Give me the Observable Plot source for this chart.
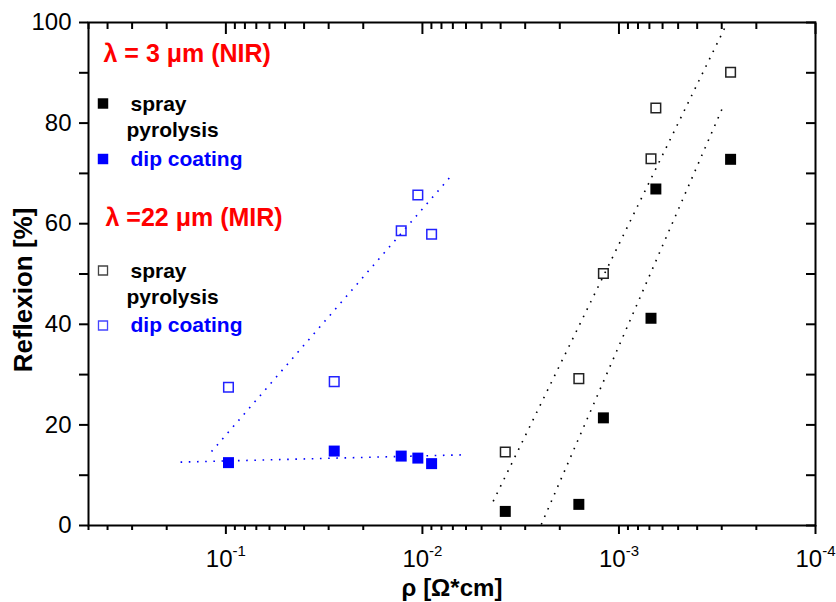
<!DOCTYPE html>
<html>
<head>
<meta charset="utf-8">
<script src="https://cdn.jsdelivr.net/npm/d3@7"></script>
<script src="https://cdn.jsdelivr.net/npm/@observablehq/plot@0.6"></script>
<style>
  html, body { margin: 0; padding: 0; background: #fff; }
  #chart svg { display: block; }
  #chart [aria-label="y-axis tick label"] { font-size: 24px; }
  #chart [aria-label="x-axis tick label"] { font-size: 24px; }
  #chart [aria-label="x-axis tick label"] tspan.exp { font-size: 15px; }
</style>
</head>
<body>
<div id="chart"></div>
<script>
// ---- data ----
// spray pyrolysis samples: resistivity ρ [Ω*cm]
const sprayRho = [0.003788, 0.0016, 0.0012, 0.000687, 0.000649, 0.0002704];
const sprayNIR = [2.8, 4.2, 21.4, 41.2, 66.9, 72.8];     // λ = 3 µm, filled black
const sprayMIR = [14.6, 29.2, 50.1, 72.9, 83.0, 90.1];   // λ = 22 µm, open black
// dip coating samples
const dipRho = [0.097, 0.0281, 0.01282, 0.01055, 0.00898];
const dipNIR = [12.5, 14.8, 13.8, 13.4, 12.3];           // filled blue
const dipMIR = [27.5, 28.6, 58.6, 65.7, 57.9];           // open blue
// dotted fit lines (end points)
const fitDipNIRRho = [0.170, 0.00603], fitDipNIRR = [12.6, 14.06];
const fitDipMIRRho = [0.1183, 0.0070], fitDipMIRR = [14.7, 69.9];
const fitSprayMIRRho = [0.004365, 0.000284], fitSprayMIRR = [4.8, 99.6];
const fitSprayNIRRho = [0.002485, 0.000299], fitSprayNIRR = [0.2, 82.8];
// axes
const xMajor = [1e-1, 1e-2, 1e-3, 1e-4];
const xTickLabels = ["10^-1", "10^-2", "10^-3", "10^-4"];
const xMinor = [0.5, 0.4, 0.3, 0.2,
  0.09, 0.08, 0.07, 0.06, 0.05, 0.04, 0.03, 0.02,
  0.009, 0.008, 0.007, 0.006, 0.005, 0.004, 0.003, 0.002,
  0.0009, 0.0008, 0.0007, 0.0006, 0.0005, 0.0004, 0.0003, 0.0002];
const yMajor = [0, 20, 40, 60, 80, 100];
const yMinor = [10, 30, 50, 70, 90];
const xTitle = "ρ [Ω*cm]";
const yTitle = "Reflexion [%]";
const legendTitles = ["λ = 3 μm (NIR)", "λ =22 μm (MIR)"];
const legendLabels = ["spray", "pyrolysis", "dip coating"];

const pts = (xs, ys) => xs.map((x, i) => ({rho: x, r: ys[i]}));

const BLUE = "#0000ff";
const RED = "#ff0000";
const dotted = {strokeWidth: 1.6, strokeDasharray: "1.6 6.6", strokeLinecap: "butt"};
const lbl = {frameAnchor: "top-left", textAnchor: "start", lineAnchor: "middle", fontWeight: "bold"};

const chart = Plot.plot({
  width: 836,
  height: 602,
  marginLeft: 88,
  marginRight: 21,
  marginTop: 22,
  marginBottom: 77,
  style: {fontFamily: "'Liberation Sans', Arial, sans-serif", color: "black", background: "white"},
  x: {type: "log", domain: [0.5, 1e-4]},
  y: {domain: [0, 100]},
  marks: [
    // fit lines
    Plot.line(pts(fitDipNIRRho, fitDipNIRR), {x: "rho", y: "r", stroke: BLUE, ...dotted}),
    Plot.line(pts(fitDipMIRRho, fitDipMIRR), {x: "rho", y: "r", stroke: BLUE, ...dotted}),
    Plot.line(pts(fitSprayMIRRho, fitSprayMIRR), {x: "rho", y: "r", stroke: "black", ...dotted}),
    Plot.line(pts(fitSprayNIRRho, fitSprayNIRR), {x: "rho", y: "r", stroke: "black", ...dotted}),
    // points
    Plot.dot(pts(sprayRho, sprayNIR), {x: "rho", y: "r", symbol: "square", r: 6.2, fill: "black"}),
    Plot.dot(pts(sprayRho, sprayMIR), {x: "rho", y: "r", symbol: "square", r: 5.4, fill: "none", stroke: "#222", strokeWidth: 1.5}),
    Plot.dot(pts(dipRho, dipNIR), {x: "rho", y: "r", symbol: "square", r: 6.2, fill: BLUE}),
    Plot.dot(pts(dipRho, dipMIR), {x: "rho", y: "r", symbol: "square", r: 5.4, fill: "none", stroke: "#2222ff", strokeWidth: 1.5}),
    // axes
    Plot.axisX({ticks: xMajor, tickSize: 9, tickPadding: 15, strokeWidth: 2, fontSize: 24, label: null,
      tickFormat: d => xTickLabels[xMajor.findIndex(v => Math.abs(v - d) < d * 1e-6)]}),
    Plot.axisX({ticks: xMinor, tickSize: 5, strokeWidth: 2, tickFormat: () => "", label: null}),
    Plot.axisX({anchor: "top", ticks: xMajor, tickSize: -11, strokeWidth: 2, tickFormat: () => "", label: null}),
    Plot.axisX({anchor: "top", ticks: xMinor, tickSize: -6, strokeWidth: 2, tickFormat: () => "", label: null}),
    Plot.axisY({ticks: yMajor, tickSize: 9, tickPadding: 8, strokeWidth: 2, fontSize: 24, label: null}),
    Plot.axisY({ticks: yMinor, tickSize: 9, strokeWidth: 2, tickFormat: () => "", label: null}),
    Plot.axisY({anchor: "right", ticks: [...yMajor, ...yMinor], tickSize: -10, strokeWidth: 2, tickFormat: () => "", label: null}),
    Plot.frame({stroke: "black", strokeWidth: 2}),
    // axis titles
    Plot.text([xTitle], {frameAnchor: "bottom", dy: 70, fontSize: 24, fontWeight: "bold"}),
    Plot.text([yTitle], {frameAnchor: "left", textAnchor: "middle", lineAnchor: "middle", dx: -65, dy: 16, rotate: -90, fontSize: 26, fontWeight: "bold"}),
    // legend
    Plot.text([legendTitles[0]], {...lbl, dx: 15, dy: 31, fontSize: 25, fill: RED}),
    Plot.dot([0], {frameAnchor: "top-left", dx: 14.5, dy: 81, symbol: "square", r: 5.9, fill: "black"}),
    Plot.text([legendLabels[0]], {...lbl, dx: 42, dy: 82, fontSize: 21, fill: "black"}),
    Plot.text([legendLabels[1]], {...lbl, dx: 38, dy: 108, fontSize: 21, fill: "black"}),
    Plot.dot([0], {frameAnchor: "top-left", dx: 14.5, dy: 136.5, symbol: "square", r: 5.9, fill: BLUE}),
    Plot.text([legendLabels[2]], {...lbl, dx: 42, dy: 137, fontSize: 21, fill: BLUE}),
    Plot.text([legendTitles[1]], {...lbl, dx: 17, dy: 195, fontSize: 25, fill: RED}),
    Plot.dot([0], {frameAnchor: "top-left", dx: 14.5, dy: 248, symbol: "square", r: 5.1, fill: "none", stroke: "#444", strokeWidth: 1.3}),
    Plot.text([legendLabels[0]], {...lbl, dx: 42, dy: 249, fontSize: 21, fill: "black"}),
    Plot.text([legendLabels[1]], {...lbl, dx: 38, dy: 275, fontSize: 21, fill: "black"}),
    Plot.dot([0], {frameAnchor: "top-left", dx: 14.5, dy: 303, symbol: "square", r: 5.1, fill: "none", stroke: "#4444ff", strokeWidth: 1.3}),
    Plot.text([legendLabels[2]], {...lbl, dx: 42, dy: 303, fontSize: 21, fill: BLUE})
  ]
});

// superscript exponents for the x tick labels
chart.querySelectorAll('[aria-label="x-axis tick label"] text').forEach(t => {
  const s = t.textContent;
  if (!s || s.indexOf("^") < 0) return;
  const [base, exp] = s.split("^");
  t.textContent = "";
  const ns = "http://www.w3.org/2000/svg";
  const b = document.createElementNS(ns, "tspan");
  b.textContent = base;
  const e = document.createElementNS(ns, "tspan");
  e.textContent = exp;
  e.setAttribute("class", "exp");
  e.setAttribute("dy", "-11");
  t.appendChild(b);
  t.appendChild(e);
});

document.getElementById("chart").appendChild(chart);
</script>
</body>
</html>
